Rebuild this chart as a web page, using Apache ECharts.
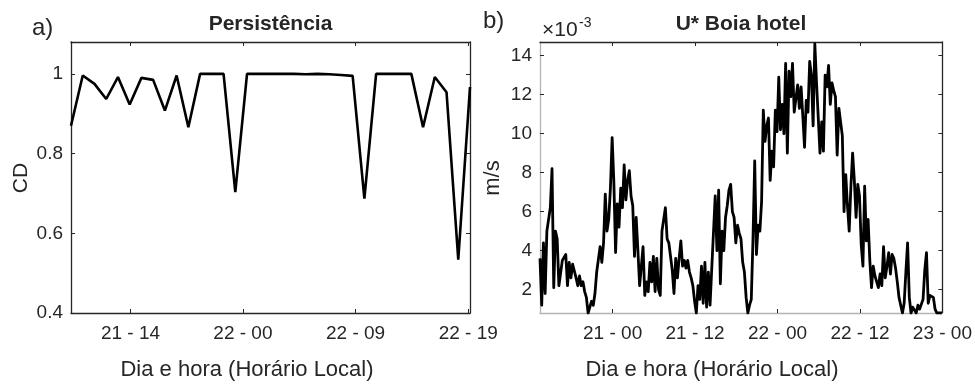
<!DOCTYPE html>
<html><head><meta charset="utf-8">
<script src="https://cdn.jsdelivr.net/npm/echarts@6/dist/echarts.min.js"></script>
<style>html,body{margin:0;padding:0;background:#fff}#c{width:975px;height:385px}</style>
</head><body><div id="c"></div>
<script>
// ---- Panel a) Persistência (CD) ----
const cdValues = [0.870, 0.996, 0.975, 0.937, 0.992, 0.923, 0.990, 0.985, 0.908, 0.996,
  0.866, 1.0, 1.0, 1.0, 0.703, 1.0, 1.0, 1.0, 1.0, 1.0,
  0.999, 1.0, 0.999, 0.997, 0.995, 0.687, 1.0, 1.0, 1.0, 1.0,
  0.866, 0.992, 0.954, 0.534, 0.967];
const cdTickPos = [5.07, 14.65, 24.25, 33.85];
const cdTickLabels = ['21 - 14', '22 - 00', '22 - 09', '22 - 19'];
const cdYTicks = [0.4, 0.6, 0.8, 1];

// ---- Panel b) U* Boia hotel (x 10^-3 m/s) ----
const uStartHour = 13.43;   // hours since day 20, 00:00
const uStepHour = 0.25;
const uValues = [
  3.6, 1.2, 4.4, 1.8, 5.0, 5.6, 6.2, 8.2, 2.1, 5.0, 4.6, 2.2, 2.3, 3.5, 3.6, 3.8, 2.2, 3.4, 2.6, 3.3,
  3.2, 2.6, 2.2, 2.7, 2.2, 2.4, 1.9, 1.6, 0.8, 0.8, 1.4, 1.2, 1.8, 2.9, 3.0, 4.2, 3.4, 4.4, 6.9, 5.0,
  5.6, 7.2, 9.8, 7.5, 3.9, 6.4, 5.2, 7.2, 6.2, 8.4, 6.6, 7.6, 8.1, 6.8, 6.3, 3.7, 5.7, 4.0, 2.2,
  2.2, 4.2, 1.7, 2.4, 1.9, 3.4, 2.4, 3.7, 1.9, 3.6, 2.0, 1.7, 5.0, 5.1, 6.2, 4.6, 4.4, 3.7, 3.0, 1.8,
  3.6, 2.6, 3.6, 4.5, 3.2, 3.5, 3.1, 3.5, 2.9, 2.6, 2.2, 1.4, 0.8, 2.2, 1.5, 3.2, 1.3, 3.4, 1.1, 2.9,
  1.2, 3.1, 3.1, 6.8, 4.0, 7.1, 2.3, 5.0, 4.0, 5.7, 6.3, 7.1, 7.4, 6.0, 5.7, 4.4, 5.3, 4.9,
  4.6, 3.4, 2.9, 1.6, 0.8, 1.2, 1.5, 4.6, 8.6, 3.8, 5.3, 5.0, 6.5, 11.2, 9.6, 10.4, 10.8, 7.6, 9.1, 8.3,
  11.2, 10.1, 12.9, 10.2, 11.5, 10.0, 13.6, 9.0, 13.2, 11.9, 13.6, 11.1, 11.8, 12.5, 11.3, 12.4, 10.9, 9.3, 11.7, 11.1,
  13.7, 13.0, 10.4, 14.6, 12.6, 10.8, 9.0, 10.6, 9.1, 13.0, 12.4, 13.5, 11.5, 12.6, 12.2, 11.9, 8.9, 11.3,
  11.3, 9.9, 6.0, 7.9, 6.3, 5.0, 7.3, 9.0, 7.6, 5.7, 7.4, 6.8, 4.3, 3.2, 7.3, 4.5, 5.6, 3.5, 2.1, 3.2,
  2.7, 2.8, 2.1, 2.8, 2.2, 4.2, 2.6, 3.2, 3.9, 2.8, 3.8, 3.6, 3.1, 2.4, 1.6, 1.2, 0.8, 1.3, 2.9, 4.4,
  1.6, 0.8, 1.1, 1.2, 0.8, 1.2, 1.0, 1.1, 1.5, 3.0, 3.9, 1.3, 1.7, 1.6, 1.6, 1.0, 0.8, 0.8, 0.8, 0.8
];
const uTickHours = [24, 36, 48, 60, 72];
const uTickLabels = ['21 - 00', '21 - 12', '22 - 00', '22 - 12', '23 - 00'];
const uYTicks = [2, 4, 6, 8, 10, 12, 14];

const FONT = "'Liberation Sans', Arial, Helvetica, sans-serif";
const TXT = '#262626';
const DARK = '#262626';
const GRAY = '#b3b3b3';

function pick(ticks, labels, v) {
  let best = 0, d = Infinity;
  ticks.forEach((t, i) => { if (Math.abs(t - v) < d) { d = Math.abs(t - v); best = i; } });
  return labels[best];
}

function xAxis(grid, min, max, ticks, labels, position, showLabels, lineColor) {
  return {
    type: 'value', gridIndex: grid, min: min, max: max, position: position,
    axisLine: { show: true, onZero: false, lineStyle: { color: lineColor, width: 1.3 } },
    axisTick: { show: true, inside: true, length: 4, customValues: ticks, lineStyle: { color: DARK, width: 1 } },
    axisLabel: { show: showLabels, customValues: ticks, margin: 11, color: TXT, fontSize: 19, fontFamily: FONT,
      formatter: v => pick(ticks, labels, v) },
    splitLine: { show: false }
  };
}
function yAxis(grid, min, max, ticks, position, showLabels, lineColor) {
  return {
    type: 'value', gridIndex: grid, min: min, max: max, position: position,
    axisLine: { show: true, onZero: false, lineStyle: { color: lineColor, width: 1.3 } },
    axisTick: { show: true, inside: true, length: 4, customValues: ticks, lineStyle: { color: DARK, width: 1 } },
    axisLabel: { show: showLabels, customValues: ticks, margin: 8, color: TXT, fontSize: 19, fontFamily: FONT,
      formatter: v => String(v) },
    splitLine: { show: false }
  };
}

const cdData = cdValues.map((v, i) => [i, v]);
const uData = uValues.map((v, i) => [uStartHour + i * uStepHour, v]);
const uEnd = 72;

function txt(text, x, y, size, opts) {
  opts = opts || {};
  return {
    type: 'text', x: x, y: y, rotation: opts.rot || 0, silent: true,
    style: {
      text: text, fill: TXT,
      font: (opts.bold ? 'bold ' : '') + size + 'px ' + FONT,
      align: opts.align || 'left', textAlign: opts.align || 'left',
      verticalAlign: 'middle', textVerticalAlign: 'middle'
    }
  };
}

const chart = echarts.init(document.getElementById('c'), null, { renderer: 'canvas' });
chart.setOption({
  animation: false,
  backgroundColor: '#ffffff',
  grid: [
    { left: 71, top: 42, width: 399, height: 271 },
    { left: 540, top: 42, width: 403, height: 271 }
  ],
  xAxis: [
    xAxis(0, 0, cdValues.length - 1, cdTickPos, cdTickLabels, 'bottom', true, DARK),
    xAxis(0, 0, cdValues.length - 1, cdTickPos, cdTickLabels, 'top', false, DARK),
    xAxis(1, uStartHour, uEnd, uTickHours, uTickLabels, 'bottom', true, GRAY),
    xAxis(1, uStartHour, uEnd, uTickHours, uTickLabels, 'top', false, DARK)
  ],
  yAxis: [
    yAxis(0, 0.4, 1.08, cdYTicks, 'left', true, DARK),
    yAxis(0, 0.4, 1.08, cdYTicks, 'right', false, DARK),
    yAxis(1, 0.8, 14.7, uYTicks, 'left', true, GRAY),
    yAxis(1, 0.8, 14.7, uYTicks, 'right', false, DARK)
  ],
  series: [
    { type: 'line', xAxisIndex: 0, yAxisIndex: 0, data: cdData, showSymbol: false, clip: true,
      lineStyle: { color: '#000', width: 2.6 } },
    { type: 'line', xAxisIndex: 2, yAxisIndex: 2, data: uData, showSymbol: false, clip: true,
      lineStyle: { color: '#000', width: 2.8, join: 'round' } }
  ],
  graphic: [
    txt('a)', 32, 28, 24),
    txt('b)', 483, 21.6, 24),
    txt('Persistência', 270.5, 24.7, 21, { bold: true, align: 'center' }),
    txt('U* Boia hotel', 741, 24.4, 21, { bold: true, align: 'center' }),
    txt('×10', 542, 30, 21),
    txt('-3', 579, 23, 14),
    txt('CD', 21, 178, 21, { rot: Math.PI / 2, align: 'center' }),
    txt('m/s', 493, 178, 22, { rot: Math.PI / 2, align: 'center' }),
    txt('Dia e hora (Horário Local)', 247, 370, 22, { align: 'center' }),
    txt('Dia e hora (Horário Local)', 712, 370, 22, { align: 'center' })
  ]
});
</script>
</body></html>
